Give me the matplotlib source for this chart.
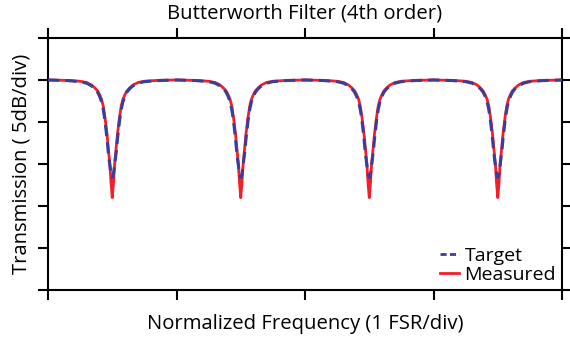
import numpy as np
import matplotlib.pyplot as plt

plt.rcParams['font.family'] = ['Open Sans', 'DejaVu Sans']

# Resonance centres (FSR units) and the notch profile around one centre
centres = [0.5, 1.5, 2.5, 3.5]
offset = [0.0, 0.005, 0.0102, 0.018, 0.025, 0.031, 0.041, 0.057, 0.07,
          0.083, 0.1, 0.114, 0.135, 0.161, 0.2, 0.25, 0.35, 0.5]
target_db = [-11.6, -11.5, -11.1, -10.2, -9.4, -8.6, -7.0, -4.8, -3.5,
             -2.6, -1.9, -1.45, -1.05, -0.7, -0.38, -0.2, -0.07, 0.0]
measured_db = [-14.0, -13.0, -12.1, -10.1, -9.0, -8.1, -6.4, -4.4, -3.1,
               -2.3, -1.7, -1.3, -0.95, -0.6, -0.3, -0.15, -0.05, 0.0]


def periodic(profile):
    off = np.array(offset)
    val = np.array(profile)
    xs, ys = [], []
    for c in centres:
        xs.append(c - off[::-1]); ys.append(val[::-1])
        xs.append(c + off[1:]); ys.append(val[1:])
    return np.concatenate(xs), np.concatenate(ys)


x_t, y_t = periodic(target_db)
x_m, y_m = periodic(measured_db)

fig = plt.figure(figsize=(5.7, 3.41), dpi=100)
ax = fig.add_axes([0.0842, 0.1496, 0.9018, 0.739])

ax.plot(x_m, y_m, color='#f41e28', lw=2.0, label='Measured', zorder=2)
ax.plot(x_t, y_t, color='#3a3d9c', lw=2.2, dashes=(3.7, 2.0), label='Target', zorder=3)

ax.set_xlim(0, 4)
ax.set_ylim(-25, 5)
ax.set_xticks(np.arange(0, 5, 1))
ax.set_yticks(np.arange(-25, 6, 5))
ax.tick_params(direction='out', length=7, width=1.5, top=True, right=True,
               labelleft=False, labelbottom=False)
for s in ax.spines.values():
    s.set_linewidth(1.5)

ax.set_title('Butterworth Filter (4th order)', fontsize=14.6, pad=14)
ax.set_xlabel('Normalized Frequency (1 FSR/div)', fontsize=14.6, labelpad=10)
ax.set_ylabel('Transmission ( 5dB/div)', fontsize=14.6, labelpad=5)

h, l = ax.get_legend_handles_labels()
leg = ax.legend(h[::-1], l[::-1], loc='lower right', frameon=False, fontsize=14,
                handlelength=0.95, handletextpad=0.3, labelspacing=0.05,
                borderaxespad=0.1, borderpad=0.2)
for ln in leg.get_lines():
    ln.set_linewidth(2.0)
leg.get_lines()[0].set_dashes((2.2, 1.2))

fig.savefig('out.png', dpi=100)
